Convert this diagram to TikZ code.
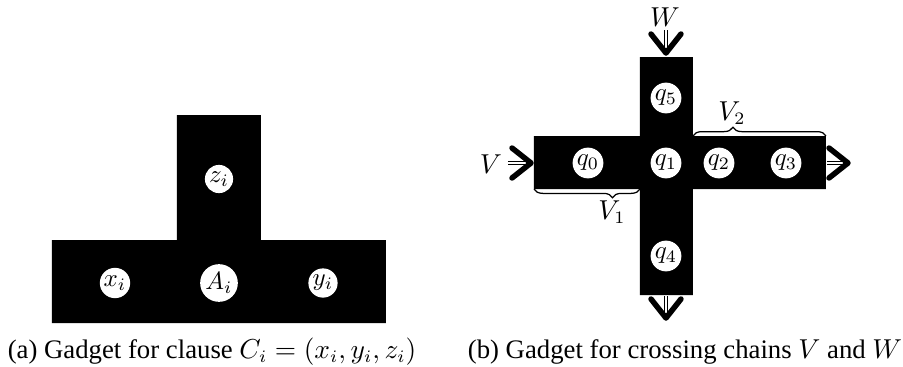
\documentclass[tikz,border=0pt]{standalone}
\usepackage{fontspec}
\setmainfont{Liberation Serif}
\usetikzlibrary{decorations.pathreplacing}
\begin{document}
\begin{tikzpicture}[x=0.4pt,y=-0.4pt,
  lbl/.style={circle,fill=white,inner sep=0.5pt,font=\fontsize{10}{11}\selectfont},
  shaft/.style={double,double distance=1.1pt,line width=0.4pt},
  chev/.pic={\draw[line width=2.2pt,line cap=round,line join=round] (-7.6pt,6pt) -- (0,0) -- (-7.6pt,-6pt);},
  brc/.style={decorate,decoration={brace,amplitude=3.5pt,aspect=#1},line width=0.5pt},
  capt/.style={anchor=base,font=\fontsize{10.7}{12}\selectfont},
  mlbl/.style={font=\fontsize{10.5}{11}\selectfont}
]
\useasboundingbox (0,0) rectangle (903,367);
% ---------- (a) clause gadget ----------
\fill[black] (52,240) -- (177,240) -- (177,115) -- (261,115) -- (261,240) -- (386,240)
  -- (386,323) -- (52,323) -- cycle;
\node[lbl] (z) at (219,179) {$z_i$};
\node[lbl] (x) at (115,283) {$x_i$};
\node[lbl] (A) at (219,283) {$A_i$};
\node[lbl] (y) at (323,283) {$y_i$};
\node[capt] (capa) at (212,358) {(a) Gadget for clause $C_i=(x_i,y_i,z_i)$};
% ---------- (b) crossing gadget ----------
\fill[black] (534,136) -- (640,136) -- (640,57) -- (693,57) -- (693,136) -- (826,136)
  -- (826,189) -- (693,189) -- (693,295) -- (640,295) -- (640,189) -- (534,189) -- cycle;
\node[lbl] (q0) at (588,163) {$q_0$};
\node[lbl] (q1) at (666,163) {$q_1$};
\node[lbl] (q2) at (719,163) {$q_2$};
\node[lbl] (q3) at (786,163) {$q_3$};
\node[lbl] (q5) at (666,98) {$q_5$};
\node[lbl] (q4) at (666,256) {$q_4$};
% arrows
\coordinate (vs) at (508,163); \coordinate (vt) at (531,163);
\coordinate (os) at (827,163); \coordinate (ot) at (848,163);
\coordinate (ws) at (666,30); \coordinate (wt) at (666,53);
\coordinate (ds) at (666,296); \coordinate (dt) at (666,318);
\draw[shaft] (vs) -- (vt);
\draw[shaft] (os) -- (ot);
\draw[shaft] (ws) -- (wt);
\draw[shaft] (ds) -- (dt);
\path (vt) pic {chev};
\path (ot) pic {chev};
\path (wt) pic[rotate=-90] {chev};
\path (dt) pic[rotate=-90] {chev};
\node[mlbl] (V) at (491,164) {$V$};
\node[mlbl] (W) at (665,17) {$W$};
% braces
\coordinate (b1s) at (640,189); \coordinate (b1e) at (534,189);
\coordinate (b2s) at (693,136); \coordinate (b2e) at (826,136);
\draw[brc=0.26] (b1s) -- (b1e);
\draw[brc=0.3] (b2s) -- (b2e);
\node[mlbl] (V1) at (612,212) {$V_1$};
\node[mlbl] (V2) at (732,113) {$V_2$};
\node[capt] (capb) at (685,358) {(b) Gadget for crossing chains $V$ and $W$};
\end{tikzpicture}
\end{document}
